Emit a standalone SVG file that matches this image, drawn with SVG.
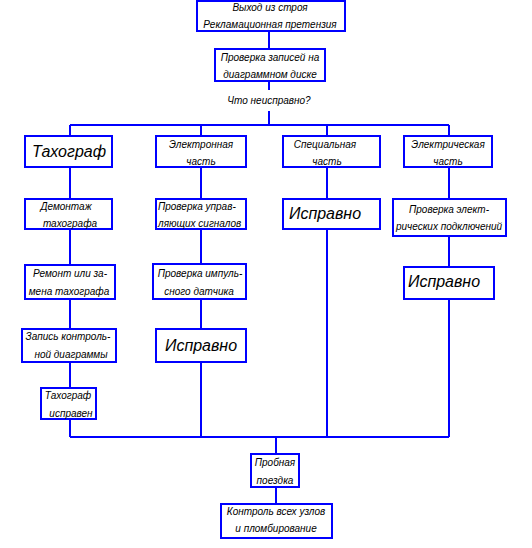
<svg xmlns="http://www.w3.org/2000/svg" width="532" height="548" viewBox="0 0 532 548">
<style>
.b{fill:#fff;stroke:#0000ff;stroke-width:2}
.c{stroke:#0000ff;stroke-width:2;fill:none}
text{font-family:"Liberation Sans",Arial,sans-serif;font-style:italic;font-size:10px;fill:#000}
.L{font-size:16px}
.m{text-anchor:middle}
</style>
<rect width="532" height="548" fill="#fff"/>
<g id="connectors">
<path class="c" d="M269,31V49M269,81V90M269,111V125M70,125H449M70,125V437M201,125V437M327,125V437M449,125V437M70,437H449M276,437V454M276,487V504"/>
</g>
<g id="n1"><rect class="b" x="197" y="1" width="148" height="30"/><text class="m" x="270" y="11">Выход из строя</text><text class="m" x="270" y="28">Рекламационная претензия</text></g>
<g id="n2"><rect class="b" x="215" y="49" width="110" height="32"/><text class="m" x="270" y="61">Проверка записей на</text><text class="m" x="270" y="78">диаграммном диске</text></g>
<g id="q"><text class="m" x="269" y="104">Что неисправно?</text></g>
<g id="n3"><rect class="b" x="25" y="136" width="87" height="31"/><text class="m L" x="69" y="157">Тахограф</text></g>
<g id="n4"><rect class="b" x="156" y="136" width="90" height="31"/><text class="m" x="201" y="148">Электронная</text><text class="m" x="201" y="165">часть</text></g>
<g id="n5"><rect class="b" x="283" y="136" width="97" height="31"/><text class="m" x="325" y="148">Специальная</text><text class="m" x="327" y="165">часть</text></g>
<g id="n6"><rect class="b" x="404" y="136" width="88" height="31"/><text class="m" x="448" y="148">Электрическая</text><text class="m" x="448" y="165">часть</text></g>
<g id="n7"><rect class="b" x="25" y="199" width="87" height="30"/><text class="m" x="66" y="210">Демонтаж</text><text class="m" x="70" y="227">тахографа</text></g>
<g id="n8"><rect class="b" x="156" y="199" width="90" height="30"/><text x="158" y="210">Проверка управ-</text><text x="158" y="227">ляющих сигналов</text></g>
<g id="n9"><rect class="b" x="283" y="199" width="97" height="30"/><text class="m L" x="325" y="219">Исправно</text></g>
<g id="n10"><rect class="b" x="393" y="199" width="113" height="37"/><text class="m" x="449" y="213">Проверка элект-</text><text class="m" x="449" y="230">рических подключений</text></g>
<g id="n11"><rect class="b" x="25" y="265" width="90" height="34"/><text class="m" x="70" y="277">Ремонт или за-</text><text class="m" x="69" y="295">мена тахографа</text></g>
<g id="n12"><rect class="b" x="153" y="264" width="93" height="35"/><text class="m" x="200" y="277">Проверка импуль-</text><text class="m" x="199" y="295">сного датчика</text></g>
<g id="n13"><rect class="b" x="404" y="267" width="90" height="32"/><text class="m L" x="444" y="287">Исправно</text></g>
<g id="n14"><rect class="b" x="22" y="329" width="94" height="33"/><text class="m" x="68" y="340">Запись контроль-</text><text class="m" x="71" y="358">ной диаграммы</text></g>
<g id="n15"><rect class="b" x="156" y="329" width="90" height="33"/><text class="m L" x="201" y="351">Исправно</text></g>
<g id="n16"><rect class="b" x="41" y="388" width="55" height="31"/><text class="m" x="68" y="399">Тахограф</text><text class="m" x="71" y="417">исправен</text></g>
<g id="n17"><rect class="b" x="251" y="454" width="48" height="33"/><text class="m" x="275" y="466">Пробная</text><text class="m" x="275" y="484">поездка</text></g>
<g id="n18"><rect class="b" x="221" y="504" width="111" height="34"/><text class="m" x="276" y="515">Контроль всех узлов</text><text class="m" x="276" y="532">и пломбирование</text></g>
</svg>
